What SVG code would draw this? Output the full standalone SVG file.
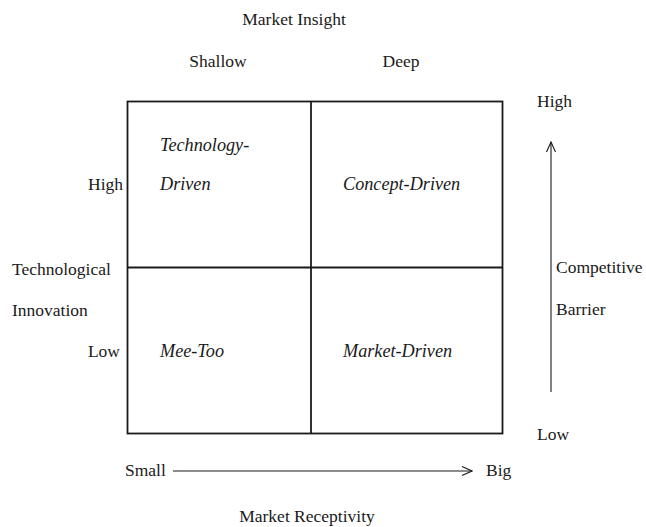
<svg xmlns="http://www.w3.org/2000/svg" width="646" height="527" viewBox="0 0 646 527">
  <style>
    text { font-family: "Liberation Serif", "Times New Roman", serif; font-size: 17.5px; fill: #1a1a1a; }
    .it { font-style: italic; font-size: 18.2px; }
    .grid { fill: none; stroke: #1a1a1a; stroke-width: 1.8; }
    .axis { fill: none; stroke: #1a1a1a; stroke-width: 1.1; }
  </style>
  <defs>
    <marker id="openhead" viewBox="0 0 12 12" refX="11" refY="6" markerWidth="12" markerHeight="12" markerUnits="userSpaceOnUse" orient="auto">
      <path d="M1,1.5 L11,6 L1,10.5" fill="none" stroke="#1a1a1a" stroke-width="1.1"/>
    </marker>
  </defs>

  <rect width="646" height="527" fill="#ffffff"/>

  <!-- axis titles and tick labels -->
  <g id="top-axis">
    <text x="294" y="25" text-anchor="middle">Market Insight</text>
    <text x="218" y="67" text-anchor="middle">Shallow</text>
    <text x="401" y="67" text-anchor="middle">Deep</text>
  </g>
  <g id="left-axis">
    <text x="123" y="190" text-anchor="end">High</text>
    <text x="12" y="275">Technological</text>
    <text x="12" y="316">Innovation</text>
    <text x="120" y="357" text-anchor="end">Low</text>
  </g>
  <g id="right-axis">
    <text x="537" y="107">High</text>
    <text x="556" y="273">Competitive</text>
    <text x="556" y="315">Barrier</text>
    <text x="537" y="440">Low</text>
  </g>
  <g id="bottom-axis">
    <text x="125" y="476">Small</text>
    <text x="486" y="476">Big</text>
    <text x="307" y="522" text-anchor="middle">Market Receptivity</text>
  </g>

  <!-- 2x2 matrix -->
  <g id="matrix">
    <rect class="grid" x="127.5" y="101.5" width="375" height="332"/>
    <line class="grid" x1="311" y1="101.5" x2="311" y2="433.5"/>
    <line class="grid" x1="127.5" y1="267.5" x2="502.5" y2="267.5"/>
  </g>

  <!-- quadrants -->
  <g id="technology-driven">
    <text class="it" x="160" y="151">Technology-</text>
    <text class="it" x="160" y="190">Driven</text>
  </g>
  <g id="concept-driven">
    <text class="it" x="343" y="190">Concept-Driven</text>
  </g>
  <g id="mee-too">
    <text class="it" x="160" y="357">Mee-Too</text>
  </g>
  <g id="market-driven">
    <text class="it" x="343" y="357">Market-Driven</text>
  </g>

  <!-- direction arrows -->
  <g id="connectors">
    <line class="axis" x1="551" y1="392" x2="551" y2="142" marker-end="url(#openhead)"/>
    <line class="axis" x1="173" y1="471" x2="472" y2="471" marker-end="url(#openhead)"/>
  </g>
</svg>
